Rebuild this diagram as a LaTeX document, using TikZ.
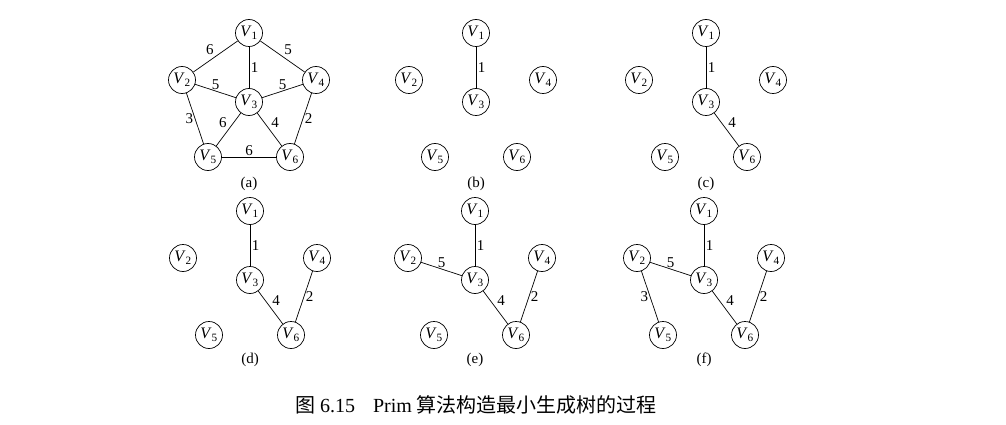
\documentclass[tikz,border=0pt]{standalone}
\usepackage{fontspec}
\setmainfont{Liberation Serif}
\newfontfamily\cjk{Noto Sans CJK SC}
\usetikzlibrary{positioning}
\tikzstyle{vnode} = [%
  circle,
  draw=black,
  line width=0.7pt,
  minimum size=27pt,
  inner sep=0pt,
  fill=white,
  font=\fontsize{16}{16}\selectfont
]
\tikzstyle{wt} = [%
  inner sep=1.5pt,
  font=\fontsize{15}{15}\selectfont
]
\tikzstyle{sublabel} = [%
  font=\fontsize{15}{15}\selectfont
]
\newcommand{\vx}[1]{\textit{V}\textsubscript{#1}}

\begin{document}
\begin{tikzpicture}[%
  x=1pt, y=-1pt,
  on grid,
  every path/.style={line width=0.7pt}
]
  \useasboundingbox (0,0) rectangle (1006,425);

  % (a) full graph
  \node[vnode] (a1) at (249,33) {\vx{1}};
  \node[vnode,below=69pt of a1] (a3) {\vx{3}};
  \node[vnode,below left=47pt and 67pt of a1] (a2) {\vx{2}};
  \node[vnode,below right=47pt and 67pt of a1] (a4) {\vx{4}};
  \node[vnode,below left=55pt and 41pt of a3] (a5) {\vx{5}};
  \node[vnode,below right=55pt and 41pt of a3] (a6) {\vx{6}};
  \node[sublabel,below=82pt of a3] (la) {(a)};
  \draw (a1) to node[wt,above left] {6} (a2);
  \draw (a1) to node[wt,right] {1} (a3);
  \draw (a1) to node[wt,above right] {5} (a4);
  \draw (a2) to node[wt,above] {5} (a3);
  \draw (a3) to node[wt,above] {5} (a4);
  \draw (a2) to node[wt,left] {3} (a5);
  \draw (a3) to node[wt,above left] {6} (a5);
  \draw (a3) to node[wt,above right] {4} (a6);
  \draw (a4) to node[wt,right] {2} (a6);
  \draw (a5) to node[wt,above] {6} (a6);

  % (b)
  \node[vnode] (b1) at (476,33) {\vx{1}};
  \node[vnode,below=69pt of b1] (b3) {\vx{3}};
  \node[vnode,below left=47pt and 67pt of b1] (b2) {\vx{2}};
  \node[vnode,below right=47pt and 67pt of b1] (b4) {\vx{4}};
  \node[vnode,below left=55pt and 41pt of b3] (b5) {\vx{5}};
  \node[vnode,below right=55pt and 41pt of b3] (b6) {\vx{6}};
  \node[sublabel,below=82pt of b3] (lb) {(b)};
  \draw (b1) to node[wt,right] {1} (b3);

  % (c)
  \node[vnode] (c1) at (706,33) {\vx{1}};
  \node[vnode,below=69pt of c1] (c3) {\vx{3}};
  \node[vnode,below left=47pt and 67pt of c1] (c2) {\vx{2}};
  \node[vnode,below right=47pt and 67pt of c1] (c4) {\vx{4}};
  \node[vnode,below left=55pt and 41pt of c3] (c5) {\vx{5}};
  \node[vnode,below right=55pt and 41pt of c3] (c6) {\vx{6}};
  \node[sublabel,below=82pt of c3] (lc) {(c)};
  \draw (c1) to node[wt,right] {1} (c3);
  \draw (c3) to node[wt,above right] {4} (c6);

  % (d)
  \node[vnode] (d1) at (250,211) {\vx{1}};
  \node[vnode,below=69pt of d1] (d3) {\vx{3}};
  \node[vnode,below left=47pt and 67pt of d1] (d2) {\vx{2}};
  \node[vnode,below right=47pt and 67pt of d1] (d4) {\vx{4}};
  \node[vnode,below left=55pt and 41pt of d3] (d5) {\vx{5}};
  \node[vnode,below right=55pt and 41pt of d3] (d6) {\vx{6}};
  \node[sublabel,below=80pt of d3] (ld) {(d)};
  \draw (d1) to node[wt,right] {1} (d3);
  \draw (d3) to node[wt,above right] {4} (d6);
  \draw (d4) to node[wt,right] {2} (d6);

  % (e)
  \node[vnode] (e1) at (475,211) {\vx{1}};
  \node[vnode,below=69pt of e1] (e3) {\vx{3}};
  \node[vnode,below left=47pt and 67pt of e1] (e2) {\vx{2}};
  \node[vnode,below right=47pt and 67pt of e1] (e4) {\vx{4}};
  \node[vnode,below left=55pt and 41pt of e3] (e5) {\vx{5}};
  \node[vnode,below right=55pt and 41pt of e3] (e6) {\vx{6}};
  \node[sublabel,below=80pt of e3] (le) {(e)};
  \draw (e1) to node[wt,right] {1} (e3);
  \draw (e2) to node[wt,above] {5} (e3);
  \draw (e3) to node[wt,above right] {4} (e6);
  \draw (e4) to node[wt,right] {2} (e6);

  % (f)
  \node[vnode] (f1) at (704,211) {\vx{1}};
  \node[vnode,below=69pt of f1] (f3) {\vx{3}};
  \node[vnode,below left=47pt and 67pt of f1] (f2) {\vx{2}};
  \node[vnode,below right=47pt and 67pt of f1] (f4) {\vx{4}};
  \node[vnode,below left=55pt and 41pt of f3] (f5) {\vx{5}};
  \node[vnode,below right=55pt and 41pt of f3] (f6) {\vx{6}};
  \node[sublabel,below=80pt of f3] (lf) {(f)};
  \draw (f1) to node[wt,right] {1} (f3);
  \draw (f2) to node[wt,above] {5} (f3);
  \draw (f2) to node[wt,left] {3} (f5);
  \draw (f3) to node[wt,above right] {4} (f6);
  \draw (f4) to node[wt,right] {2} (f6);

  % Caption
  \node[font=\fontsize{20}{20}\selectfont] (title) at (476,405)
    {{\cjk 图}~6.15\hspace{0.9em}Prim~{\cjk 算法构造最小生成树的过程}};

\end{tikzpicture}
\end{document}
